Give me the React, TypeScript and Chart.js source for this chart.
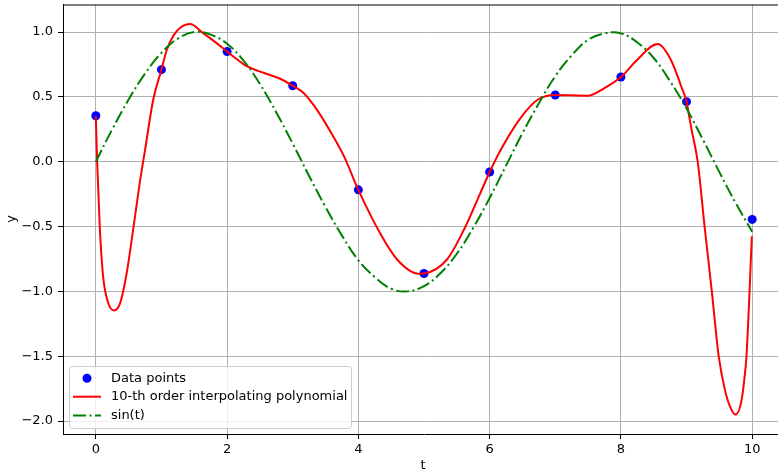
import React, { useEffect, useRef } from "react";
import { Chart, registerables } from "chart.js";

Chart.register(...registerables);

// Data points (t, y)
const pointT = [0, 1, 2, 3, 4, 5, 6, 7, 8, 9, 10];
const pointY = [0.355, 0.71, 0.85, 0.586, -0.217, -0.862, -0.079, 0.515, 0.653, 0.463, -0.445];

// 10-th order interpolating polynomial
const polyT = [
  0, 0.02, 0.06, 0.11, 0.19, 0.275, 0.37, 0.47, 0.57, 0.67, 0.75, 0.875, 1.0, 1.08, 1.23, 1.435,
  1.64, 1.84, 2.0, 2.15, 2.3, 2.555, 2.81, 3.0, 3.165, 3.37, 3.57, 3.78, 4.0, 4.34, 4.59, 4.92,
  5.0, 5.35, 5.61, 5.86, 6.0, 6.17, 6.47, 6.73, 7.0, 7.49, 7.75, 8.0, 8.25, 8.56, 8.76, 8.92,
  9.0, 9.04, 9.08, 9.17, 9.275, 9.385, 9.49, 9.58, 9.66, 9.745, 9.83, 9.88, 9.913, 9.96, 9.98, 9.995,
];
const polyY = [
  0.355, 0.0, -0.5, -0.88, -1.09, -1.147, -1.09, -0.86, -0.52, -0.16, 0.09, 0.48, 0.71, 0.86, 1.005, 1.062,
  0.99, 0.915, 0.85, 0.79, 0.737, 0.686, 0.64, 0.586, 0.53, 0.4, 0.236, 0.043, -0.217, -0.56, -0.754, -0.864,
  -0.862, -0.754, -0.523, -0.24, -0.079, 0.093, 0.337, 0.478, 0.515, 0.509, 0.568, 0.653, 0.787, 0.907, 0.787, 0.58,
  0.463, 0.35, 0.24, 0.0, -0.5, -1.0, -1.5, -1.75, -1.885, -1.95, -1.86, -1.68, -1.5, -1.0, -0.75, -0.575,
];

// sin(t) curve
const sinT = [
  0, 0.25, 0.5, 0.75, 1, 1.25, 1.5, 1.75, 2, 2.25, 2.5, 2.75, 3, 3.25, 3.5, 3.75, 4, 4.25, 4.5, 4.75,
  5, 5.25, 5.5, 5.75, 6, 6.25, 6.5, 6.75, 7, 7.25, 7.5, 7.75, 8, 8.25, 8.5, 8.75, 9, 9.25, 9.5, 9.75, 10,
];
const sinY = [
  0, 0.25, 0.48, 0.68, 0.84, 0.95, 1.0, 0.98, 0.91, 0.78, 0.6, 0.38, 0.14, -0.11, -0.35, -0.57, -0.76, -0.89, -0.98, -1.0,
  -0.96, -0.86, -0.71, -0.51, -0.28, -0.03, 0.22, 0.45, 0.66, 0.82, 0.94, 0.99, 0.99, 0.92, 0.8, 0.62, 0.41, 0.17, -0.08, -0.32, -0.54,
];

const xTicks = [0, 2, 4, 6, 8, 10];
const yTicks = [-2.0, -1.5, -1.0, -0.5, 0.0, 0.5, 1.0];

const legendLabels = ["Data points", "10-th order interpolating polynomial", "sin(t)"];

const FONT = "DejaVu Sans";
const FS = 13;
const DASH = [13, 3.5, 2, 3.5];

const zip = (xs: number[], ys: number[]) => xs.map((x, i) => ({ x, y: ys[i] }));

const fmt = (v: number) => v.toFixed(1).replace("-", "\u2212");

const decorPlugin = {
  id: "decor",
  afterDraw(chart: any) {
    const ctx = chart.ctx as CanvasRenderingContext2D;
    const a = chart.chartArea;
    ctx.save();
    // top and right spines
    ctx.strokeStyle = "#000";
    ctx.lineWidth = 1;
    ctx.beginPath();
    ctx.moveTo(a.left, a.top + 0.5);
    ctx.lineTo(a.right, a.top + 0.5);
    ctx.moveTo(a.right - 0.5, a.top);
    ctx.lineTo(a.right - 0.5, a.bottom);
    ctx.stroke();

    // axis titles
    ctx.fillStyle = "#000";
    ctx.font = `${FS}px "${FONT}"`;
    ctx.textAlign = "center";
    ctx.textBaseline = "middle";
    ctx.fillText("t", 423, 466);
    ctx.save();
    ctx.translate(12, 219);
    ctx.rotate(-Math.PI / 2);
    ctx.fillText("y", 0, 0);
    ctx.restore();

    // legend
    const bx = 69.5, by = 366.5, bw = 282, bh = 62, r = 3;
    ctx.beginPath();
    ctx.moveTo(bx + r, by);
    ctx.lineTo(bx + bw - r, by);
    ctx.quadraticCurveTo(bx + bw, by, bx + bw, by + r);
    ctx.lineTo(bx + bw, by + bh - r);
    ctx.quadraticCurveTo(bx + bw, by + bh, bx + bw - r, by + bh);
    ctx.lineTo(bx + r, by + bh);
    ctx.quadraticCurveTo(bx, by + bh, bx, by + bh - r);
    ctx.lineTo(bx, by + r);
    ctx.quadraticCurveTo(bx, by, bx + r, by);
    ctx.closePath();
    ctx.fillStyle = "rgba(255,255,255,0.8)";
    ctx.fill();
    ctx.strokeStyle = "#cccccc";
    ctx.lineWidth = 1;
    ctx.stroke();

    const rows = [378.3, 396.7, 415.5];
    // scatter marker
    ctx.fillStyle = "#0000ff";
    ctx.beginPath();
    ctx.arc(87, rows[0], 4.5, 0, Math.PI * 2);
    ctx.fill();
    // red line
    ctx.strokeStyle = "#ff0000";
    ctx.lineWidth = 2;
    ctx.beginPath();
    ctx.moveTo(73, rows[1]);
    ctx.lineTo(101, rows[1]);
    ctx.stroke();
    // green dash-dot
    ctx.strokeStyle = "#008000";
    ctx.setLineDash(DASH);
    ctx.beginPath();
    ctx.moveTo(73, rows[2]);
    ctx.lineTo(101, rows[2]);
    ctx.stroke();
    ctx.setLineDash([]);

    ctx.fillStyle = "#000";
    ctx.textAlign = "left";
    ctx.textBaseline = "middle";
    legendLabels.forEach((l, i) => ctx.fillText(l, 111, rows[i]));
    ctx.restore();
  },
};

export default function App() {
  const ref = useRef<HTMLCanvasElement | null>(null);

  useEffect(() => {
    if (!ref.current) return;
    const chart = new Chart(ref.current, {
      type: "line",
      data: {
        datasets: [
          {
            type: "scatter",
            label: legendLabels[0],
            data: zip(pointT, pointY),
            backgroundColor: "#0000ff",
            borderWidth: 0,
            pointRadius: 4.5,
            order: 3,
          } as any,
          {
            type: "line",
            label: legendLabels[1],
            data: zip(polyT, polyY),
            borderColor: "#ff0000",
            borderWidth: 2,
            pointRadius: 0,
            cubicInterpolationMode: "monotone",
            fill: false,
            order: 2,
          },
          {
            type: "line",
            label: legendLabels[2],
            data: zip(sinT, sinY),
            borderColor: "#008000",
            borderWidth: 2,
            borderDash: DASH,
            pointRadius: 0,
            tension: 0.4,
            fill: false,
            order: 1,
          },
        ],
      },
      options: {
        animation: false,
        responsive: false,
        devicePixelRatio: 1,
        layout: { padding: { top: 4, right: 15, left: 0, bottom: 0 } },
        plugins: { legend: { display: false }, tooltip: { enabled: false } },
        scales: {
          x: {
            type: "linear",
            min: -0.5,
            max: 10.5,
            afterBuildTicks: (s: any) => {
              s.ticks = xTicks.map((v) => ({ value: v }));
            },
            afterFit: (s: any) => {
              s.height = 39;
              s.paddingLeft = 0;
              s.paddingRight = 0;
            },
            ticks: {
              color: "#000",
              font: { family: FONT, size: FS },
              padding: 3,
              maxRotation: 0,
              callback: (v: any) => String(v),
            },
            grid: { color: "#b0b0b0", lineWidth: 1, tickColor: "#000", tickLength: 5, tickWidth: 1 },
            border: { display: true, color: "#000", width: 1 },
          },
          y: {
            type: "linear",
            min: -2.1,
            max: 1.2126,
            afterBuildTicks: (s: any) => {
              s.ticks = yTicks.map((v) => ({ value: v }));
            },
            afterFit: (s: any) => {
              s.width = 63;
              s.paddingTop = 0;
              s.paddingBottom = 0;
            },
            ticks: {
              color: "#000",
              font: { family: FONT, size: FS },
              padding: 5,
              callback: (v: any) => fmt(Number(v)),
            },
            grid: { color: "#b0b0b0", lineWidth: 1, tickColor: "#000", tickLength: 5, tickWidth: 1 },
            border: { display: true, color: "#000", width: 1 },
          },
        },
      },
      plugins: [decorPlugin],
    });
    return () => chart.destroy();
  }, []);

  return (
    <div
      style={{
        position: "fixed",
        left: 0,
        top: 0,
        width: 778,
        height: 473,
        overflow: "hidden",
        background: "#fff",
      }}
    >
      <canvas ref={ref} width={800} height={473} style={{ width: 800, height: 473, display: "block" }} />
    </div>
  );
}
